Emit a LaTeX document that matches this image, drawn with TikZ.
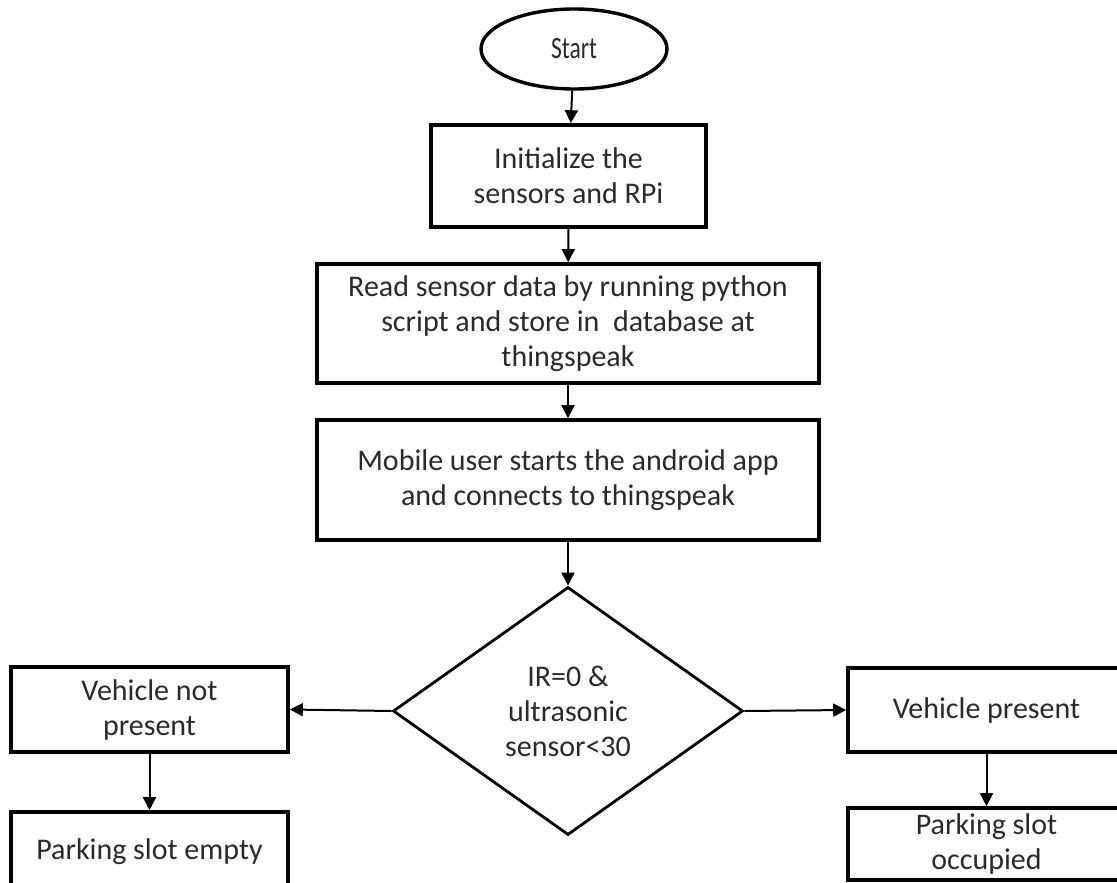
\documentclass[tikz,border=0pt]{standalone}
\usepackage{fontspec}
\setmainfont{Carlito}
\usetikzlibrary{shapes.geometric,arrows.meta}
\definecolor{txt}{HTML}{2A2A2A}
\tikzset{
  every node/.style={text=txt, font=\fontsize{30}{35}\selectfont, align=center, inner sep=0pt},
  procbox/.style={draw=black, line width=3.6pt, rectangle, fill=white},
  startnode/.style={draw=black, line width=3.4pt, ellipse, minimum width=186pt, minimum height=80pt},
  decision/.style={draw=black, line width=2.8pt, diamond, aspect=1.41, minimum width=350pt, minimum height=248pt},
  flow/.style={draw=black, line width=2pt, -{Triangle[length=13pt,width=13pt]}}
}
\begin{document}
\begin{tikzpicture}[x=1pt,y=-1pt]
  \useasboundingbox (0,0) rectangle (1117,883);
  \fill[white] (0,0) rectangle (1117,883);
  \clip (0,0) rectangle (1117,883);

  % main column
  \node[startnode] (start) at (574,49) {\fontsize{31}{35}\selectfont\scalebox{0.76}[1]{Start}};
  \node[procbox, minimum width=275pt, minimum height=102pt] (init) at (568.5,176)
    {Initialize the\\sensors and RPi};
  \node[procbox, minimum width=502pt, minimum height=119pt] (read) at (568,323.5)
    {Read sensor data by running python\\script and store in\ \ database at\\thingspeak};
  \node[procbox, minimum width=502pt, minimum height=120pt] (mobile) at (568,480)
    {Mobile user starts the android app\\and connects to thingspeak};
  \node[decision] (check) at (568,711) {IR=0 \&\\ultrasonic\\sensor<30};

  % left branch
  \node[procbox, minimum width=277pt, minimum height=85pt] (absent) at (149.5,709.5)
    {Vehicle not\\present};
  \node[procbox, minimum width=277pt, minimum height=85pt] (empty) at (149.5,854.5)
    {\raisebox{10pt}{Parking slot empty}};

  % right branch
  \node[procbox, minimum width=277pt, minimum height=84pt] (present) at (986.5,710)
    {Vehicle present};
  \node[procbox, minimum width=277pt, minimum height=72pt] (occupied) at (986.5,844)
    {Parking slot\\occupied};

  % connectors
  \draw[flow] (start) -- (init);
  \draw[flow] (init) -- (read);
  \draw[flow] (read) -- (mobile);
  \draw[flow] (mobile) -- (check);
  \draw[flow] (check.west) -- (absent.east);
  \draw[flow] (check.east) -- (present.west);
  \draw[flow] (absent) -- (empty);
  \draw[flow] (present) -- (occupied);
\end{tikzpicture}
\end{document}
